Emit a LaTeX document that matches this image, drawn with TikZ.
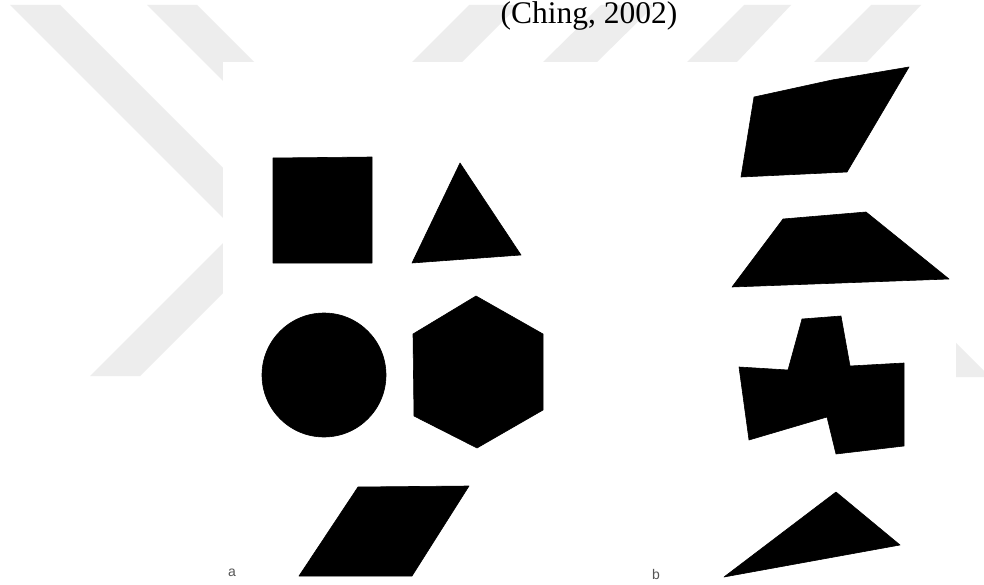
\documentclass[tikz,border=0pt]{standalone}
\usepackage{xcolor}
\usepackage{fontspec}
\setmainfont{Liberation Serif}
\setsansfont{Liberation Sans}
\definecolor{wmgray}{HTML}{EDEDED}
\definecolor{taggray}{HTML}{555555}
\usepackage{tikz}

\begin{document}
\begin{tikzpicture}[x=1pt,y=-1pt,
  wmark/.style={fill=wmgray,draw=none},
  blob/.style={fill=black,draw=black,line width=0.6pt,line join=round},
  tag/.style={text=taggray,font=\sffamily\fontsize{14}{14}\selectfont,inner sep=0pt}]
\useasboundingbox (0,0) rectangle (984,585);
\fill[white] (0,0) rectangle (984,585);

% watermark bands behind the scan
\fill[wmark] (10,5) -- (60,5) -- (320,265) -- (270,265) -- cycle;
\fill[wmark] (147,5) -- (197,5) -- (330,138) -- (280,138) -- cycle;
\fill[wmark] (90,376) -- (140,376) -- (330,186) -- (280,186) -- cycle;
\fill[wmark] (412,62) -- (469,5) -- (519,5) -- (462,62) -- cycle;
\fill[wmark] (543,62) -- (601,5) -- (655,5) -- (597,62) -- cycle;
\fill[wmark] (687,62) -- (744,5) -- (791,5) -- (737,62) -- cycle;
\fill[wmark] (814,62) -- (871,5) -- (921,5) -- (867,62) -- cycle;
\fill[wmark] (940,377) -- (990,377) -- (800,187) -- (750,187) -- cycle;

% the scanned page
\fill[white] (223,62) rectangle (956,585);

\node[anchor=base,inner sep=0pt,font=\fontsize{31.5}{36}\selectfont] (cite) at (589,23.7) {(Ching, 2002)};

% group a
\fill[blob] (273,158) -- (372,157) -- (372,263) -- (273,263) -- cycle;
\fill[blob] (460,163) -- (521,255) -- (412,263) -- cycle;
\fill[blob] (324,375) circle[radius=62pt];
\fill[blob] (476,296) -- (543,334) -- (543,410) -- (477,448) -- (414,416) -- (413,334) -- cycle;
\fill[blob] (358,487) -- (469,486) -- (412,576) -- (299,576) -- cycle;

% group b
\fill[blob] (754,97) -- (832,80) -- (909,67) -- (847,172) -- (741,177) -- cycle;
\fill[blob] (783,219) -- (866,212) -- (949,279) -- (732,287) -- cycle;
\fill[blob] (802,319) -- (841,316) -- (850,366) -- (904,363) -- (904,446)
  -- (836,454) -- (827,417) -- (749,440) -- (739,367) -- (788,370) -- cycle;
\fill[blob] (836,492) -- (900,545) -- (724,577) -- cycle;

\node[tag,anchor=base] (taga) at (232,576) {a};
\node[tag,anchor=base] (tagb) at (656,579) {b};
\end{tikzpicture}
\end{document}
